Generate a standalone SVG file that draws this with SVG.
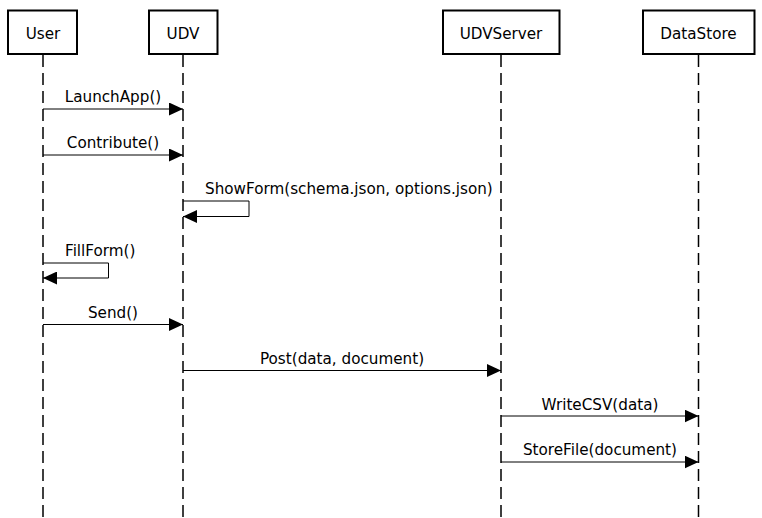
<svg xmlns="http://www.w3.org/2000/svg" width="762" height="518" viewBox="0 0 762 518">
<style>
text{font-family:"DejaVu Sans","Liberation Sans",sans-serif;font-size:15.2px;fill:#000}
.box{fill:#fff;stroke:#000;stroke-width:2}
.life{stroke:#000;stroke-width:1.5;stroke-dasharray:12 6;fill:none}
.msg{stroke:#000;stroke-width:1;fill:none}
</style>
<defs>
<marker id="ah" markerWidth="14" markerHeight="13" refX="14" refY="6.5" orient="auto" markerUnits="userSpaceOnUse">
<path d="M0,0 L14,6.5 L0,13 Z" fill="#000"/>
</marker>
</defs>
<rect width="762" height="518" fill="#fff"/>
<g id="lifelines">
<line class="life" x1="43" y1="55" x2="43" y2="518"/>
<line class="life" x1="183" y1="55" x2="183" y2="518"/>
<line class="life" x1="501" y1="55" x2="501" y2="518"/>
<line class="life" x1="698.5" y1="55" x2="698.5" y2="518"/>
</g>
<g id="User"><rect class="box" x="8" y="10.5" width="69" height="43.5"/><text x="43" y="39" text-anchor="middle">User</text></g>
<g id="UDV"><rect class="box" x="149" y="10.5" width="68.5" height="43.5"/><text x="183" y="39" text-anchor="middle">UDV</text></g>
<g id="UDVServer"><rect class="box" x="443" y="10.5" width="116.5" height="43.5"/><text x="501" y="39" text-anchor="middle">UDVServer</text></g>
<g id="DataStore"><rect class="box" x="643" y="10.5" width="111.5" height="43.5"/><text x="698.5" y="39" text-anchor="middle">DataStore</text></g>
<g id="connectors">
<line class="msg" x1="43" y1="109" x2="183" y2="109" marker-end="url(#ah)"/>
<text x="113" y="102" text-anchor="middle">LaunchApp()</text>
<line class="msg" x1="43" y1="155" x2="183" y2="155" marker-end="url(#ah)"/>
<text x="113" y="148" text-anchor="middle">Contribute()</text>
<polyline class="msg" points="183,201 249,201 249,216.5 183,216.5" marker-end="url(#ah)"/>
<text x="205" y="194">ShowForm(schema.json, options.json)</text>
<polyline class="msg" points="43,263 108.5,263 108.5,278 43,278" marker-end="url(#ah)"/>
<text x="65" y="256">FillForm()</text>
<line class="msg" x1="43" y1="324.5" x2="183" y2="324.5" marker-end="url(#ah)"/>
<text x="113" y="318" text-anchor="middle">Send()</text>
<line class="msg" x1="183" y1="370.5" x2="501" y2="370.5" marker-end="url(#ah)"/>
<text x="342" y="364" text-anchor="middle">Post(data, document)</text>
<line class="msg" x1="501" y1="416" x2="698.5" y2="416" marker-end="url(#ah)"/>
<text x="600" y="410" text-anchor="middle">WriteCSV(data)</text>
<line class="msg" x1="501" y1="462" x2="698.5" y2="462" marker-end="url(#ah)"/>
<text x="600" y="455" text-anchor="middle">StoreFile(document)</text>
</g>
</svg>
